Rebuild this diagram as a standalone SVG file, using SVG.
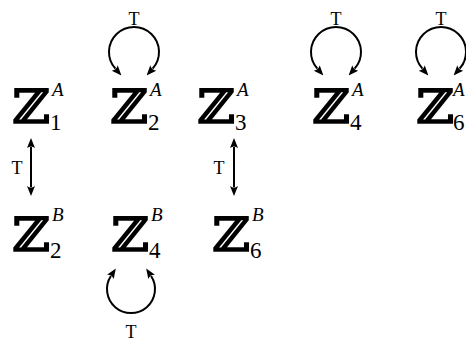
<svg xmlns="http://www.w3.org/2000/svg" width="466" height="343" viewBox="0 0 466 343">
<style>
.z{font-family:"DejaVu Serif",serif;font-weight:bold;font-size:47px;fill:#000}
.sup{font-family:"Liberation Serif",serif;font-style:italic;font-size:19px;fill:#000}
.sub{font-family:"Liberation Serif",serif;font-size:23px;fill:#000}
.t{font-family:"Liberation Serif",serif;font-size:18px;fill:#000;text-anchor:middle}
.c{fill:none;stroke:#000;stroke-width:2}
</style>
<defs>
<marker id="ah" viewBox="0 0 10 10" refX="1" refY="5" markerWidth="5" markerHeight="5" markerUnits="strokeWidth" orient="auto-start-reverse">
<path d="M0,1 L10,5 L0,9 Q3,5 0,1 Z" fill="#000"/>
</marker>
</defs>
<g id="n1A"><text class="z" transform="translate(12,123) scale(1.1,1)">ℤ</text><text class="sup" x="52" y="96">A</text><text class="sub" x="50" y="130">1</text></g>
<g id="n2A"><text class="z" transform="translate(110,123) scale(1.1,1)">ℤ</text><text class="sup" x="150" y="96">A</text><text class="sub" x="148" y="130">2</text></g>
<g id="n3A"><text class="z" transform="translate(197,123) scale(1.1,1)">ℤ</text><text class="sup" x="237" y="96">A</text><text class="sub" x="235" y="130">3</text></g>
<g id="n4A"><text class="z" transform="translate(312,123) scale(1.1,1)">ℤ</text><text class="sup" x="352" y="96">A</text><text class="sub" x="350" y="130">4</text></g>
<g id="n6A"><text class="z" transform="translate(416,123) scale(1.1,1)">ℤ</text><text class="sup" x="453" y="96">A</text><text class="sub" x="453" y="130">6</text></g>
<g id="n2B"><text class="z" transform="translate(12,251) scale(1.1,1)">ℤ</text><text class="sup" x="52" y="221">B</text><text class="sub" x="50" y="258">2</text></g>
<g id="n4B"><text class="z" transform="translate(111,251) scale(1.1,1)">ℤ</text><text class="sup" x="151" y="221">B</text><text class="sub" x="149" y="258">4</text></g>
<g id="n6B"><text class="z" transform="translate(212,251) scale(1.1,1)">ℤ</text><text class="sup" x="252" y="221">B</text><text class="sub" x="250" y="258">6</text></g>
<g id="connectors">
<path class="c" d="M31,147 V187" marker-start="url(#ah)" marker-end="url(#ah)"/>
<text class="t" x="17" y="174">T</text>
<path class="c" d="M234,147 V187" marker-start="url(#ah)" marker-end="url(#ah)"/>
<text class="t" x="219" y="174">T</text>
<path class="c" d="M115.4,68.7 A25,25 0 1 1 152.6,68.7" marker-start="url(#ah)" marker-end="url(#ah)"/>
<text class="t" x="134" y="25">T</text>
<path class="c" d="M317.4,68.7 A25,25 0 1 1 354.6,68.7" marker-start="url(#ah)" marker-end="url(#ah)"/>
<text class="t" x="336" y="25">T</text>
<path class="c" d="M422.4,68.7 A25,25 0 1 1 459.6,68.7" marker-start="url(#ah)" marker-end="url(#ah)"/>
<text class="t" x="441" y="25">T</text>
<path class="c" d="M110.9,276 A24,24 0 1 0 151.1,276" marker-start="url(#ah)" marker-end="url(#ah)"/>
<text class="t" x="131" y="338">T</text>
</g>
</svg>
